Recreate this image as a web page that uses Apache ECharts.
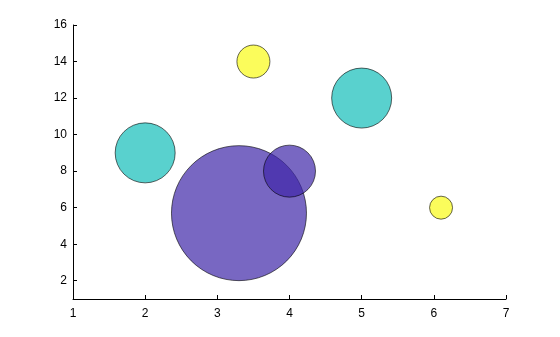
<!DOCTYPE html>
<html>
<head>
<meta charset="utf-8">
<script src="https://cdn.jsdelivr.net/npm/echarts@6/dist/echarts.min.js"></script>
<style>html,body{margin:0;padding:0;background:#fff;}#c{width:560px;height:337px;}</style>
</head>
<body>
<div id="c"></div>
<script>
// Data
const xValues = [3.3, 4.0, 2.0, 5.0, 3.5, 6.1];
const yValues = [5.7, 8.0, 9.0, 12.0, 14.0, 6.0];
const bubbleDiameters = [135, 52, 60, 60, 33, 23];
const colorGroups = [0, 0, 1, 1, 2, 2];
const groupColors = ['rgba(62,38,168,0.7)', 'rgba(18,190,185,0.7)', 'rgba(249,251,21,0.7)'];
const xTicks = [1, 2, 3, 4, 5, 6, 7];
const yTicks = [2, 4, 6, 8, 10, 12, 14, 16];

const points = xValues.map((x, i) => ({
  value: [x, yValues[i], bubbleDiameters[i]],
  itemStyle: { color: groupColors[colorGroups[i]] }
}));

const chart = echarts.init(document.getElementById('c'), null, { renderer: 'canvas' });
const axisFont = { color: '#000', fontFamily: 'Liberation Sans, Arial, sans-serif', fontSize: 12 };
chart.setOption({
  animation: false,
  backgroundColor: '#fff',
  grid: { left: 73, right: 54, top: 25, bottom: 38, containLabel: false },
  xAxis: {
    type: 'value', min: 1, max: 7, interval: 1,
    axisLine: { show: true, lineStyle: { color: '#000', width: 1 } },
    axisTick: { show: true, inside: true, length: 4, lineStyle: { color: '#000' }, customValues: xTicks },
    axisLabel: Object.assign({ margin: 9, customValues: xTicks }, axisFont),
    splitLine: { show: false }
  },
  yAxis: {
    type: 'value', min: 1, max: 16,
    axisLine: { show: true, lineStyle: { color: '#000', width: 1 } },
    axisTick: { show: true, inside: true, length: 4, lineStyle: { color: '#000' }, customValues: yTicks },
    axisLabel: Object.assign({ margin: 6, customValues: yTicks }, axisFont),
    splitLine: { show: false }
  },
  series: [{
    type: 'scatter',
    data: points,
    symbolSize: v => v[2],
    itemStyle: { borderColor: '#000', borderWidth: 0.6, opacity: 1 },
    emphasis: { disabled: true }
  }]
});
</script>
</body>
</html>
